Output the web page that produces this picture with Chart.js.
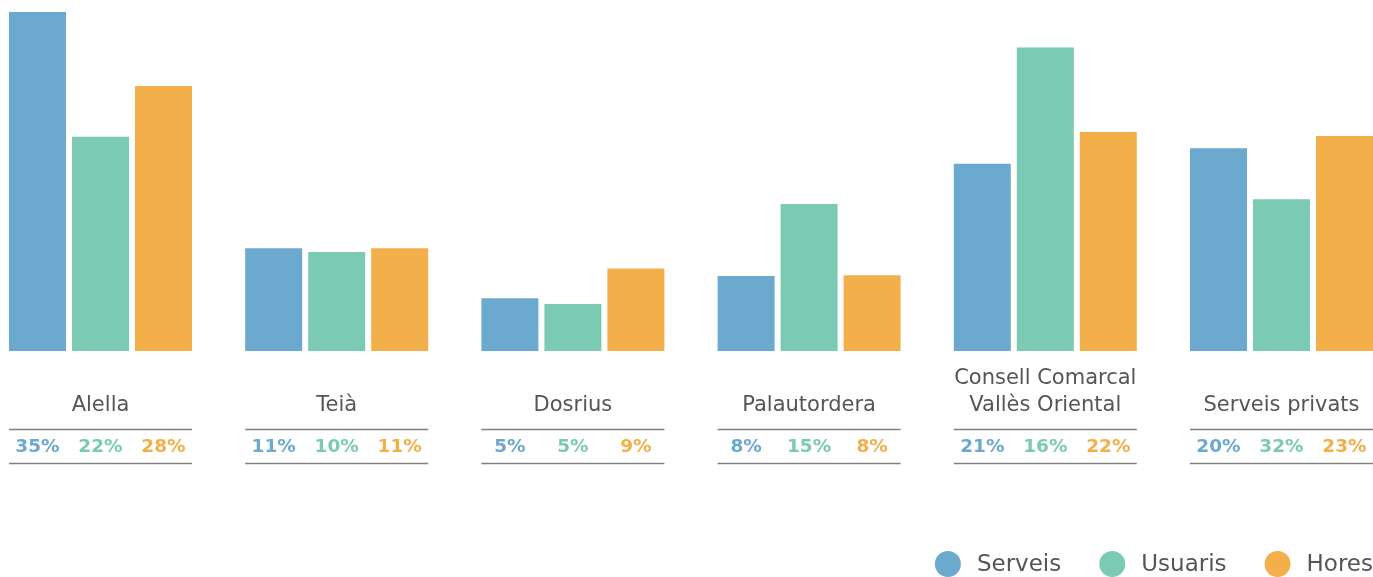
<!DOCTYPE html>
<html>
<head>
    <meta charset="utf-8">
    <title>Serveis, usuaris i hores</title>
    <script src="https://cdn.jsdelivr.net/npm/chart.js"></script>
    <style>
        html, body { margin: 0; padding: 0; background: #fff; }
        #wrap { position: relative; width: 1373px; height: 577px; }
    </style>
</head>
<body>
    <div id="wrap">
        <canvas id="grafic"></canvas>
    </div>

    <script>
        // Categories (municipis / entitats)
        var categories = ['Alella', 'Teià', 'Dosrius', 'Palautordera', ['Consell Comarcal', 'Vallès Oriental'], 'Serveis privats'];

        // Alçada de les barres (llegida del gràfic, en %)
        var serveis = [35.3, 10.7, 5.5, 7.8, 19.5, 21.1];
        var usuaris = [22.3, 10.3, 4.9, 15.3, 31.6, 15.8];
        var hores   = [27.6, 10.7, 8.6, 7.9, 22.8, 22.4];

        // Percentatges escrits sota cada grup
        var pctServeis = ['35%', '11%', '5%', '8%', '21%', '20%'];
        var pctUsuaris = ['22%', '10%', '5%', '15%', '16%', '32%'];
        var pctHores   = ['28%', '11%', '9%', '8%', '22%', '23%'];

        var series = ['Serveis', 'Usuaris', 'Hores'];
        var colors = ['#6CA9CE', '#7BCAB3', '#F2AF4A'];
        var pcts = [pctServeis, pctUsuaris, pctHores];

        var textColor = '#555555';
        var family = '"DejaVu Sans", sans-serif';

        function punts(values) {
            return values.map(function (v, i) { return { x: i, y: v }; });
        }

        // Línies i percentatges sota cada grup, i llegenda
        var taulaPlugin = {
            id: 'taula',
            afterDraw: function (chart) {
                var ctx = chart.ctx;
                var m0 = chart.getDatasetMeta(0).data;
                var m2 = chart.getDatasetMeta(2).data;
                ctx.save();
                for (var i = 0; i < categories.length; i++) {
                    var left = m0[i].x - m0[i].width / 2;
                    var right = m2[i].x + m2[i].width / 2;
                    ctx.strokeStyle = '#808080';
                    ctx.lineWidth = 1.3;
                    ctx.beginPath();
                    ctx.moveTo(left, 429.5);
                    ctx.lineTo(right, 429.5);
                    ctx.moveTo(left, 463.5);
                    ctx.lineTo(right, 463.5);
                    ctx.stroke();

                    ctx.font = 'bold 18.5px ' + family;
                    ctx.textAlign = 'center';
                    ctx.textBaseline = 'middle';
                    for (var d = 0; d < 3; d++) {
                        var bar = chart.getDatasetMeta(d).data[i];
                        ctx.fillStyle = colors[d];
                        ctx.fillText(pcts[d][i], bar.x, 447);
                    }
                }

                // llegenda
                ctx.font = '23px ' + family;
                ctx.textAlign = 'left';
                ctx.textBaseline = 'middle';
                var cursor = chart.width;
                for (var s = series.length - 1; s >= 0; s--) {
                    var w = ctx.measureText(series[s]).width;
                    var tx = cursor - w;
                    ctx.fillStyle = textColor;
                    ctx.fillText(series[s], tx, 565);
                    var cx = tx - 16 - 13;
                    ctx.fillStyle = colors[s];
                    ctx.beginPath();
                    ctx.arc(cx, 564, 13, 0, Math.PI * 2);
                    ctx.fill();
                    cursor = cx - 13 - 38;
                }
                ctx.restore();
            }
        };

        var ctx = document.getElementById('grafic').getContext('2d');
        var chart = new Chart(ctx, {
            type: 'bar',
            data: {
                datasets: [
                    { label: series[0], data: punts(serveis), backgroundColor: colors[0] },
                    { label: series[1], data: punts(usuaris), backgroundColor: colors[1] },
                    { label: series[2], data: punts(hores), backgroundColor: colors[2] }
                ]
            },
            options: {
                responsive: true,
                maintainAspectRatio: false,
                animation: false,
                categoryPercentage: 0.8002,
                barPercentage: 0.9048,
                borderWidth: 0,
                layout: { padding: { top: 12, left: 0, right: 0, bottom: 0 } },
                plugins: {
                    legend: { display: false },
                    tooltip: { enabled: false }
                },
                scales: {
                    x: {
                        type: 'linear',
                        offset: false,
                        min: -0.4255,
                        max: 5.3874,
                        grid: { display: false, drawTicks: false, offset: false },
                        border: { display: false },
                        afterBuildTicks: function (scale) {
                            scale.ticks = categories.map(function (c, i) { return { value: i }; });
                        },
                        afterFit: function (scale) {
                            scale.height = 226;
                            scale.paddingLeft = 0;
                            scale.paddingRight = 0;
                        },
                        ticks: {
                            autoSkip: false,
                            maxRotation: 0,
                            crossAlign: 'far',
                            padding: 28,
                            color: textColor,
                            font: { family: family, size: 21, lineHeight: 1.27 },
                            callback: function (value) { return categories[value]; }
                        }
                    },
                    y: {
                        display: false,
                        min: 0,
                        max: 35.3
                    }
                }
            },
            plugins: [taulaPlugin]
        });
    </script>
</body>
</html>
